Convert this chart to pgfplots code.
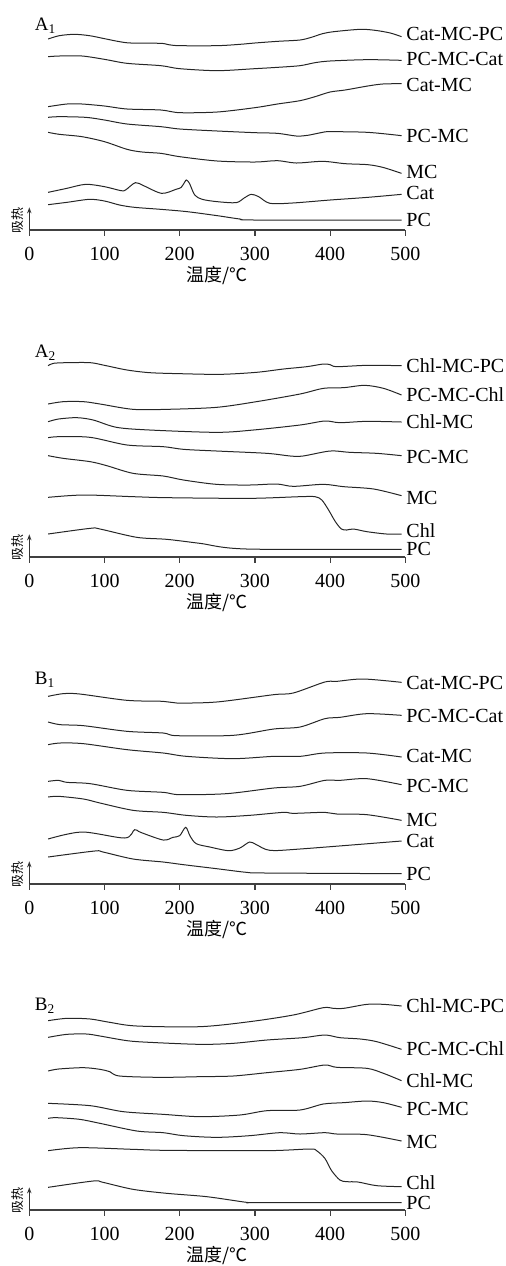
\documentclass[border=0pt]{standalone}
\usepackage{fontspec}
\setmainfont{Liberation Serif}
\newfontfamily\cjk{Noto Sans CJK SC}
\usepackage{pgfplots}
\pgfplotsset{compat=1.18}
\usetikzlibrary{arrows.meta}

% one picture pixel = 0.5pt; y data are in thirds of a pixel above the axis line
\pgfplotsset{
  dsc/.style={
    x=0.376pt, y=0.16667pt,
    xmin=0, xmax=500, ymin=0, ymax=68,
    enlargelimits=false, clip=false,
    anchor=south west,
    axis x line=bottom, axis y line=left,
    x axis line style={-, line width=0.8pt, black!75},
    y axis line style={-{Stealth[length=3pt,width=2.2pt]}, line width=0.5pt, black!80},
    xtick={0,100,...,500}, ytick=\empty,
    tick align=outside, major tick length=2.8pt,
    tick style={black!75, line width=0.6pt},
    xticklabel style={font=\fontsize{10}{12}\selectfont, inner sep=1.5pt, yshift=-4pt},
    /pgf/number format/assume math mode=true,
    xlabel={\cjk 温度/℃},
    xlabel style={at={(axis description cs:0.5,0)}, anchor=center, yshift=-22.5pt,
      font=\fontsize{9}{11}\selectfont},
    ylabel={\cjk 吸热},
    ylabel style={at={(axis description cs:0,0.4)}, anchor=center, yshift=6pt,
      font=\fontsize{6.5}{8}\selectfont},
  },
  cv/.style={black!85, line width=0.5pt, smooth, tension=0.5},
}
\tikzset{
  lbl/.style={anchor=west, inner sep=0pt, font=\fontsize{10}{12}\selectfont},
  ttl/.style={anchor=west, inner sep=0pt, font=\fontsize{9.5}{11}\selectfont},
}

\begin{document}
\begin{tikzpicture}
\path[use as bounding box] (0,0) rectangle (252.5pt,-633pt);

% ---------- A1 ----------
\begin{axis}[dsc, at={(14.65pt,-115pt)}]
\addplot[cv] coordinates {(25,573)(40,583)(60,587)(80,583)(100,574)(120,565)(135,561)(175,560)(185,556)(200,553)(250,553)(280,557)(300,561)(330,566)(360,570)(375,578)(390,589)(405,595)(440,602)(460,599)(480,591)(495,580)};
\addplot[cv] coordinates {(25,520)(40,522)(70,522)(100,512)(130,500)(175,493)(200,484)(250,478)(300,484)(330,488)(360,493)(380,502)(400,507)(450,511)(495,509)};
\addplot[cv] coordinates {(25,370)(50,378)(70,378)(100,372)(130,363)(175,360)(200,352)(250,354)(300,367)(330,378)(360,388)(380,400)(400,414)(420,420)(450,432)(470,438)(495,439)};
\addplot[cv] coordinates {(25,338)(40,340)(75,338)(100,330)(130,318)(175,310)(200,303)(250,297)(300,292)(330,290)(355,282)(370,284)(390,293)(400,295)(450,293)(495,283)};
\addplot[cv] coordinates {(25,293)(40,287)(70,280)(100,265)(130,242)(150,234)(175,230)(200,220)(250,207)(300,204)(330,208)(355,201)(390,206)(420,199)(450,196)(470,188)(495,170)};
\addplot[cv] coordinates {(25,113)(50,125)(75,137)(100,130)(122,118)(128,120)(141,142)(152,133)(176,110)(195,122)(202,128)(207,145)(209,150)(213,140)(220,105)(230,92)(250,85)(275,82)(285,95)(295,107)(305,100)(320,80)(350,81)(400,90)(450,98)(495,107)};
\addplot[cv] coordinates {(25,76)(50,83)(80,92)(100,87)(120,75)(140,68)(175,62)(210,55)(250,43)(280,33)(300,30)(495,30)};
\node[lbl] at (axis cs:501,587) {Cat-MC-PC};
\node[lbl] at (axis cs:501,512) {PC-MC-Cat};
\node[lbl] at (axis cs:501,435) {Cat-MC};
\node[lbl] at (axis cs:501,282) {PC-MC};
\node[lbl] at (axis cs:501,173) {MC};
\node[lbl] at (axis cs:501,110) {Cat};
\node[lbl] at (axis cs:501,30) {PC};
\node[ttl] at (axis cs:7,612) {A\textsubscript{1}};
\end{axis}

% ---------- A2 ----------
\begin{axis}[dsc, at={(14.65pt,-278.5pt)}]
\addplot[cv] coordinates {(25,574)(32,581)(50,583)(81,583)(100,575)(130,561)(160,553)(200,550)(254,548)(302,554)(338,564)(369,571)(391,579)(400,577)(409,571)(449,575)(495,574)};
\addplot[cv] coordinates {(25,459)(45,466)(72,466)(94,459)(138,443)(183,443)(249,449)(302,466)(360,489)(391,506)(418,508)(446,515)(471,506)(495,486)};
\addplot[cv] coordinates {(25,406)(39,414)(63,418)(85,411)(116,389)(160,381)(249,374)(298,381)(360,396)(393,408)(413,403)(449,407)(495,405)};
\addplot[cv] coordinates {(25,358)(39,361)(81,359)(130,336)(178,331)(205,323)(249,318)(316,311)(347,303)(364,303)(400,318)(426,314)(462,311)(495,304)};
\addplot[cv] coordinates {(25,304)(45,296)(81,286)(103,274)(138,251)(178,243)(205,231)(249,218)(293,216)(329,219)(351,212)(391,218)(418,211)(458,204)(495,184)};
\addplot[cv] coordinates {(25,179)(72,186)(138,181)(183,178)(293,176)(360,181)(380,181)(389,171)(398,141)(407,106)(415,84)(422,81)(431,84)(449,76)(475,69)(495,69)};
\addplot[cv] coordinates {(25,69)(81,86)(94,84)(143,59)(183,53)(227,41)(289,24)(495,23)};
\node[lbl] at (axis cs:501,574) {Chl-MC-PC};
\node[lbl] at (axis cs:501,486) {PC-MC-Chl};
\node[lbl] at (axis cs:501,406) {Chl-MC};
\node[lbl] at (axis cs:501,301) {PC-MC};
\node[lbl] at (axis cs:501,176) {MC};
\node[lbl] at (axis cs:501,79) {Chl};
\node[lbl] at (axis cs:501,23) {PC};
\node[ttl] at (axis cs:7,612) {A\textsubscript{2}};
\end{axis}

% ---------- B1 ----------
\begin{axis}[dsc, at={(14.65pt,-442pt)}]
\addplot[cv] coordinates {(25,563)(45,571)(67,570)(130,551)(178,548)(196,543)(249,546)(325,568)(351,573)(393,606)(409,608)(444,615)(495,605)};
\addplot[cv] coordinates {(25,486)(41,478)(72,475)(130,458)(178,453)(196,445)(271,446)(325,465)(360,471)(393,496)(413,500)(449,511)(495,506)};
\addplot[cv] coordinates {(25,418)(41,423)(72,421)(130,403)(178,393)(209,383)(271,376)(325,383)(360,383)(393,393)(449,393)(495,381)};
\addplot[cv] coordinates {(25,308)(39,311)(50,305)(81,301)(130,281)(178,275)(200,268)(262,271)(325,288)(360,293)(393,311)(413,311)(449,316)(495,298)};
\addplot[cv] coordinates {(25,261)(39,263)(72,255)(94,243)(138,221)(178,215)(209,206)(249,201)(293,206)(338,215)(351,212)(393,215)(409,210)(449,208)(495,191)};
\addplot[cv] coordinates {(25,135)(70,156)(127,138)(140,163)(148,155)(178,132)(191,140)(200,145)(208,170)(214,143)(222,121)(240,111)(265,100)(280,108)(293,126)(302,118)(320,101)(360,105)(495,129)};
\addplot[cv] coordinates {(25,81)(87,99)(98,96)(138,75)(178,66)(205,58)(249,46)(289,35)(315,33)(495,31)};
\node[lbl] at (axis cs:501,603) {Cat-MC-PC};
\node[lbl] at (axis cs:501,503) {PC-MC-Cat};
\node[lbl] at (axis cs:501,383) {Cat-MC};
\node[lbl] at (axis cs:501,293) {PC-MC};
\node[lbl] at (axis cs:501,193) {MC};
\node[lbl] at (axis cs:501,130) {Cat};
\node[lbl] at (axis cs:501,30) {PC};
\node[ttl] at (axis cs:7,612) {B\textsubscript{1}};
\end{axis}

% ---------- B2 ----------
\begin{axis}[dsc, at={(14.65pt,-605pt)}]
\addplot[cv] coordinates {(25,568)(50,575)(81,573)(107,563)(143,552)(227,550)(293,565)(351,585)(391,607)(404,605)(418,605)(449,617)(471,617)(495,612)};
\addplot[cv] coordinates {(25,518)(50,527)(76,528)(94,522)(130,508)(160,503)(227,497)(271,500)(316,510)(364,517)(393,525)(413,517)(440,513)(462,505)(495,482)};
\addplot[cv] coordinates {(25,417)(39,423)(72,427)(94,422)(107,415)(120,402)(174,398)(227,400)(271,402)(316,412)(360,422)(393,435)(409,428)(449,425)(471,410)(495,388)};
\addplot[cv] coordinates {(25,320)(81,313)(125,295)(178,287)(227,280)(280,285)(316,298)(360,300)(391,318)(418,322)(449,327)(471,322)(495,308)};
\addplot[cv] coordinates {(25,275)(36,277)(67,272)(94,260)(143,237)(178,232)(205,223)(249,218)(293,223)(333,232)(360,228)(393,232)(409,228)(449,226)(495,207)};
\addplot[cv] coordinates {(25,178)(67,187)(138,182)(183,179)(316,178)(373,183)(382,178)(393,155)(402,118)(413,90)(422,85)(437,84)(462,73)(495,70)};
\addplot[cv] coordinates {(25,68)(85,87)(98,83)(138,62)(183,50)(236,40)(289,23)(305,22)(495,22)};
\node[lbl] at (axis cs:501,612) {Chl-MC-PC};
\node[lbl] at (axis cs:501,485) {PC-MC-Chl};
\node[lbl] at (axis cs:501,388) {Chl-MC};
\node[lbl] at (axis cs:501,303) {PC-MC};
\node[lbl] at (axis cs:501,205) {MC};
\node[lbl] at (axis cs:501,82) {Chl};
\node[lbl] at (axis cs:501,20) {PC};
\node[ttl] at (axis cs:7,612) {B\textsubscript{2}};
\end{axis}
\end{tikzpicture}
\end{document}
